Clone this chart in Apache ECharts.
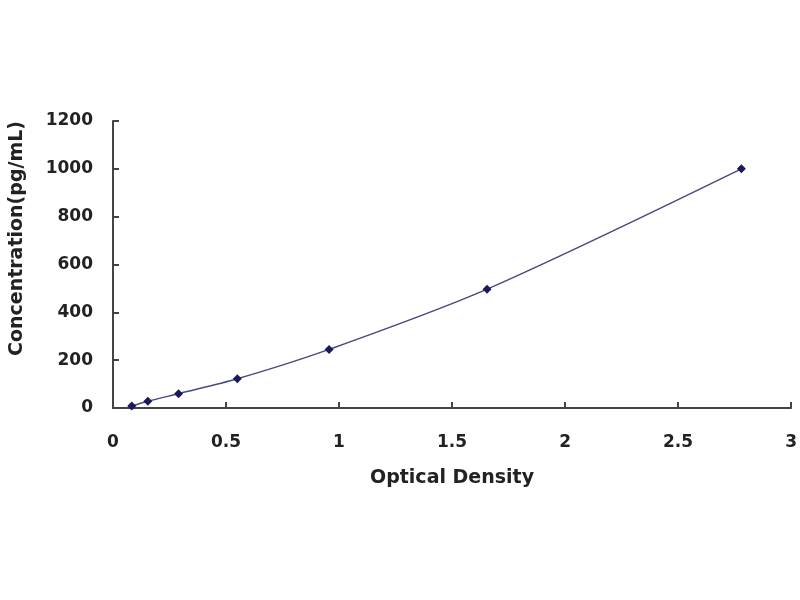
<!DOCTYPE html>
<html>
<head>
<meta charset="utf-8">
<script src="https://cdn.jsdelivr.net/npm/echarts@6/dist/echarts.min.js"></script>
<style>html,body{margin:0;padding:0;background:#fff;}#c{width:800px;height:600px;}</style>
</head>
<body>
<div id="c"></div>
<script>
var odValues = [0.083, 0.154, 0.29, 0.55, 0.956, 1.655, 2.78];
var concValues = [8, 28, 60, 122, 245, 497, 1000];
var xTicks = [0, 0.5, 1, 1.5, 2, 2.5, 3];
var yTicks = [0, 200, 400, 600, 800, 1000, 1200];

var points = odValues.map(function (v, i) { return [v, concValues[i]]; });
var chart = echarts.init(document.getElementById('c'));
var labelStyle = { fontFamily: 'DejaVu Sans', fontWeight: 'bold', fontSize: 17, color: '#222' };
chart.setOption({
  animation: false,
  grid: { left: 111, right: 7, top: 121, bottom: 192 },
  xAxis: {
    type: 'value', min: xTicks[0], max: xTicks[xTicks.length - 1], interval: 0.5,
    name: 'Optical Density', nameLocation: 'middle', nameGap: 61,
    nameTextStyle: { fontFamily: 'DejaVu Sans', fontWeight: 'bold', fontSize: 19, color: '#222' },
    axisLine: { lineStyle: { color: '#444', width: 2 } },
    axisTick: { inside: true, length: 6, lineStyle: { color: '#444', width: 2 } },
    axisLabel: Object.assign({ margin: 26, formatter: function (v) { return String(v); } }, labelStyle),
    splitLine: { show: false }
  },
  yAxis: {
    type: 'value', min: yTicks[0], max: yTicks[yTicks.length - 1], interval: 200,
    name: 'Concentration(pg/mL)', nameLocation: 'middle', nameGap: 86,
    nameTextStyle: { fontFamily: 'DejaVu Sans', fontWeight: 'bold', fontSize: 19, color: '#222', padding: [0, 0, 0, 52] },
    axisLine: { show: true, lineStyle: { color: '#444', width: 2 } },
    axisTick: { show: true, inside: true, length: 6, lineStyle: { color: '#444', width: 2 } },
    axisLabel: Object.assign({ margin: 20, formatter: function (v) { return String(v); } }, labelStyle),
    splitLine: { show: false }
  },
  series: [{
    type: 'line', data: points, smooth: 0.3,
    symbol: 'diamond', symbolSize: 9,
    lineStyle: { color: '#4a4a80', width: 1.5 },
    itemStyle: { color: '#1a1a5a' }
  }]
});
</script>
</body>
</html>
